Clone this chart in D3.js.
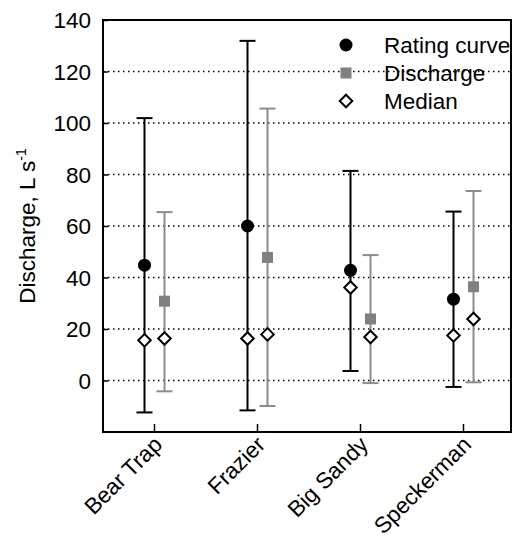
<!DOCTYPE html>
<html>
<head>
<meta charset="utf-8">
<script src="https://cdn.jsdelivr.net/npm/d3@7"></script>
<style>
  body { margin: 0; background: #fff; }
  svg text { font-family: "Liberation Sans", Arial, sans-serif; fill: #000; }
</style>
</head>
<body>
<div id="chart"></div>
<script>
// Data
const sites = ['Bear Trap', 'Frazier', 'Big Sandy', 'Speckerman'];
const ratingMean = [44.8, 60.0, 42.8, 31.6];
const ratingLow = [-12.4, -11.6, 3.7, -2.5];
const ratingHigh = [101.9, 131.9, 81.4, 65.6];
const ratingMedian = [15.6, 16.3, 36.1, 17.5];
const dischargeMean = [30.8, 47.8, 23.9, 36.4];
const dischargeLow = [-4.2, -9.9, -1.0, -0.7];
const dischargeHigh = [65.4, 105.6, 48.7, 73.6];
const dischargeMedian = [16.3, 17.9, 16.9, 23.9];
const yTicks = [0, 20, 40, 60, 80, 100, 120, 140];

const width = 513, height = 539;
const margin = { top: 20, right: 2, bottom: 107, left: 103 };
const plotW = width - margin.left - margin.right;
const plotH = height - margin.top - margin.bottom;
const fontSize = 22.5;

const svg = d3.select('#chart').append('svg')
  .attr('width', width)
  .attr('height', height);

const g = svg.append('g').attr('transform', `translate(${margin.left},${margin.top})`);

const x = d3.scaleBand().domain(sites).range([0, 412]).padding(0);
const y = d3.scaleLinear().domain([-20, 140]).range([plotH, 0]);
const offset = 10;

// gridlines (dotted)
g.selectAll('line.grid')
  .data(yTicks.filter(t => t < 140))
  .enter().append('line')
  .attr('class', 'grid')
  .attr('x1', 0).attr('x2', plotW)
  .attr('y1', d => y(d)).attr('y2', d => y(d))
  .attr('stroke', '#000')
  .attr('stroke-width', 1.3)
  .attr('stroke-dasharray', '1.5,3.5');

// y axis ticks pointing inward
const yAxis = d3.axisRight(y).tickValues(yTicks).tickSize(5).tickFormat('');
g.append('g').call(yAxis).call(a => a.select('.domain').remove())
  .selectAll('line').attr('stroke', '#000').attr('stroke-width', 1.5);

// y tick labels
g.selectAll('text.ylab')
  .data(yTicks)
  .enter().append('text')
  .attr('class', 'ylab')
  .attr('x', -12)
  .attr('y', d => y(d))
  .attr('dy', '0.36em')
  .attr('text-anchor', 'end')
  .attr('font-size', fontSize)
  .text(d => d);

// x axis ticks pointing inward
const xAxis = d3.axisTop(x).tickSize(8).tickFormat('');
g.append('g').attr('transform', `translate(0,${plotH})`).call(xAxis)
  .call(a => a.select('.domain').remove())
  .selectAll('line').attr('stroke', '#000').attr('stroke-width', 1.5);

// x labels rotated
g.selectAll('text.xlab')
  .data(sites)
  .enter().append('text')
  .attr('class', 'xlab')
  .attr('text-anchor', 'end')
  .attr('font-size', fontSize)
  .attr('transform', d => `translate(${x(d) + x.bandwidth() / 2 + 9},${plotH + 14}) rotate(-45)`)
  .text(d => d);

// frame
g.append('rect')
  .attr('x', 0).attr('y', 0)
  .attr('width', plotW).attr('height', plotH)
  .attr('fill', 'none')
  .attr('stroke', '#000')
  .attr('stroke-width', 2);

function drawSeries(mean, low, high, median, dx, color, kind) {
  const cx = i => x(sites[i]) + x.bandwidth() / 2 + dx;
  const grp = g.append('g');
  const idx = d3.range(sites.length);

  grp.selectAll('line.bar').data(idx).enter().append('line')
    .attr('x1', cx).attr('x2', cx)
    .attr('y1', i => y(low[i])).attr('y2', i => y(high[i]))
    .attr('stroke', color).attr('stroke-width', 2);

  [low, high].forEach(arr => {
    grp.selectAll(null).data(idx).enter().append('line')
      .attr('x1', i => cx(i) - 8).attr('x2', i => cx(i) + 8)
      .attr('y1', i => y(arr[i])).attr('y2', i => y(arr[i]))
      .attr('stroke', color).attr('stroke-width', 2);
  });

  // median diamonds
  grp.selectAll('path.med').data(idx).enter().append('path')
    .attr('d', d3.symbol(d3.symbolDiamond2, 100)())
    .attr('transform', i => `translate(${cx(i)},${y(median[i])})`)
    .attr('fill', '#fff').attr('stroke', '#000').attr('stroke-width', 2);

  if (kind === 'circle') {
    grp.selectAll('circle.m').data(idx).enter().append('circle')
      .attr('cx', cx).attr('cy', i => y(mean[i])).attr('r', 6.5)
      .attr('fill', '#000');
  } else {
    grp.selectAll('rect.m').data(idx).enter().append('rect')
      .attr('x', i => cx(i) - 5.5).attr('y', i => y(mean[i]) - 5.5)
      .attr('width', 11).attr('height', 11)
      .attr('fill', '#808080');
  }
}

drawSeries(ratingMean, ratingLow, ratingHigh, ratingMedian, -offset, '#000', 'circle');
drawSeries(dischargeMean, dischargeLow, dischargeHigh, dischargeMedian, offset, '#8c8c8c', 'square');

// legend
const legend = svg.append('g');
const lx = 346, lt = 384;
legend.append('circle').attr('cx', lx).attr('cy', 45).attr('r', 6.5).attr('fill', '#000');
legend.append('rect').attr('x', lx - 5.5).attr('y', 73 - 5.5).attr('width', 11).attr('height', 11).attr('fill', '#808080');
legend.append('path').attr('d', d3.symbol(d3.symbolDiamond2, 100)())
  .attr('transform', `translate(${lx},101)`)
  .attr('fill', '#fff').attr('stroke', '#000').attr('stroke-width', 2);
[['Rating curve', 45], ['Discharge', 73], ['Median', 101]].forEach(([t, yy]) => {
  legend.append('text').attr('x', lt).attr('y', yy).attr('dy', '0.36em')
    .attr('font-size', fontSize).text(t);
});

// y axis title
const title = svg.append('text')
  .attr('transform', `translate(35,226) rotate(-90)`)
  .attr('text-anchor', 'middle')
  .attr('font-size', fontSize);
title.append('tspan').text('Discharge, L s');
title.append('tspan').attr('dy', -9).attr('font-size', 14).text('-1');
</script>
</body>
</html>
